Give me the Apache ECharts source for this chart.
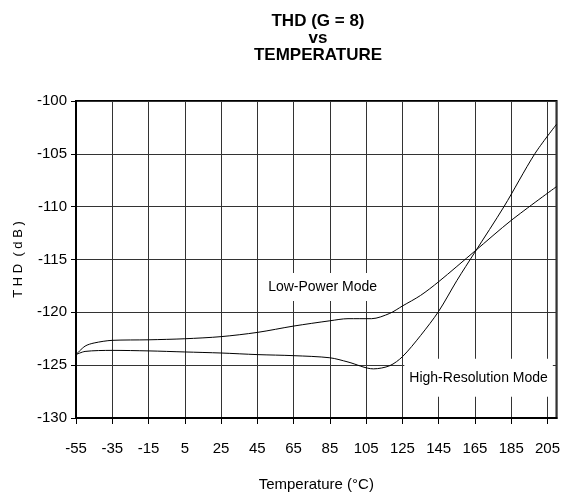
<!DOCTYPE html>
<html>
<head>
<meta charset="utf-8">
<script src="https://cdn.jsdelivr.net/npm/echarts@6/dist/echarts.min.js"></script>
<style>html,body{margin:0;padding:0;background:#fff;}#c{width:563px;height:497px;}</style>
</head>
<body>
<div id="c"></div>
<script>
// Temperature (°C) vs THD (dB)
const lowPowerTemp = [-55, -50, -45, -35, -15, 5, 25, 45, 65, 85, 95, 108, 118, 125, 135, 145, 165, 185, 210];
const lowPowerTHD  = [-124.0, -123.2, -122.9, -122.65, -122.6, -122.5, -122.3, -121.9, -121.3, -120.8, -120.6, -120.6, -120.1, -119.4, -118.4, -117.1, -114.2, -111.3, -108.1];
const highResTemp  = [-55, -50, -35, -15, 5, 25, 45, 65, 85, 95, 109, 118, 125, 135, 145, 155, 165, 181, 198, 210];
const highResTHD   = [-124.0, -123.7, -123.6, -123.65, -123.75, -123.85, -124.0, -124.1, -124.3, -124.7, -125.35, -125.05, -124.2, -122.2, -119.9, -117.0, -114.3, -110.0, -105.0, -102.2];
const xTicks = { min: -55, max: 210, interval: 20 };
const yTicks = { min: -130, max: -100, interval: 5 };
const seriesNames = ['Low-Power Mode', 'High-Resolution Mode'];
const labelPos = [[81, -117.6], [167, -126.2]];

const font = 'Liberation Sans, Arial, sans-serif';
const chart = echarts.init(document.getElementById('c'));
const zip = (xs, ys) => xs.map((x, i) => [x, ys[i]]);

chart.setOption({
  animation: false,
  backgroundColor: '#fff',
  title: {
    text: 'THD (G = 8)\nvs\nTEMPERATURE',
    left: 313, top: 8, textAlign: 'center',
    textStyle: { fontFamily: font, fontSize: 17, fontWeight: 'bold', lineHeight: 17, color: '#000' }
  },
  grid: { left: 76, right: 5, top: 101, bottom: 78, show: true, borderColor: '#000', borderWidth: 2, containLabel: false },
  xAxis: {
    type: 'value', min: xTicks.min, max: xTicks.max, interval: xTicks.interval,
    name: 'Temperature (°C)', nameLocation: 'middle', nameGap: 59,
    nameTextStyle: { fontFamily: font, fontSize: 15, color: '#000' },
    axisLine: { show: true, onZero: false, lineStyle: { color: '#000', width: 2 } },
    axisTick: { show: true, length: 6, lineStyle: { color: '#000', width: 1 } },
    axisLabel: { fontFamily: font, fontSize: 15, color: '#000', margin: 23, showMaxLabel: false },
    splitLine: { show: true, lineStyle: { color: '#333', width: 1 } }
  },
  yAxis: {
    type: 'value', min: yTicks.min, max: yTicks.max, interval: yTicks.interval,
    name: 'T H D  ( d B )', nameLocation: 'middle', nameGap: 51, nameRotate: 90,
    nameTextStyle: { fontFamily: font, fontSize: 13, color: '#000' },
    axisLine: { show: true, onZero: false, lineStyle: { color: '#000', width: 2 } },
    axisTick: { show: true, length: 5, lineStyle: { color: '#000', width: 1 } },
    axisLabel: { fontFamily: font, fontSize: 15, color: '#000', margin: 9 },
    splitLine: { show: true, lineStyle: { color: '#333', width: 1 } }
  },
  series: [
    {
      name: seriesNames[0], type: 'line', data: zip(lowPowerTemp, lowPowerTHD),
      smooth: 0.3, symbol: 'none', lineStyle: { color: '#000', width: 1 },
      markPoint: {
        symbol: 'rect', symbolSize: 0,
        label: { show: true, formatter: seriesNames[0], position: 'inside', fontFamily: font, fontSize: 14, color: '#000', backgroundColor: '#fff', padding: [7, 6] },
        data: [{ coord: labelPos[0] }]
      }
    },
    {
      name: seriesNames[1], type: 'line', data: zip(highResTemp, highResTHD),
      smooth: 0.3, symbol: 'none', lineStyle: { color: '#000', width: 1 },
      markPoint: {
        symbol: 'rect', symbolSize: 0,
        label: { show: true, formatter: seriesNames[1], position: 'inside', fontFamily: font, fontSize: 14, color: '#000', backgroundColor: '#fff', padding: [12, 5] },
        data: [{ coord: labelPos[1] }]
      }
    }
  ]
});
</script>
</body>
</html>
